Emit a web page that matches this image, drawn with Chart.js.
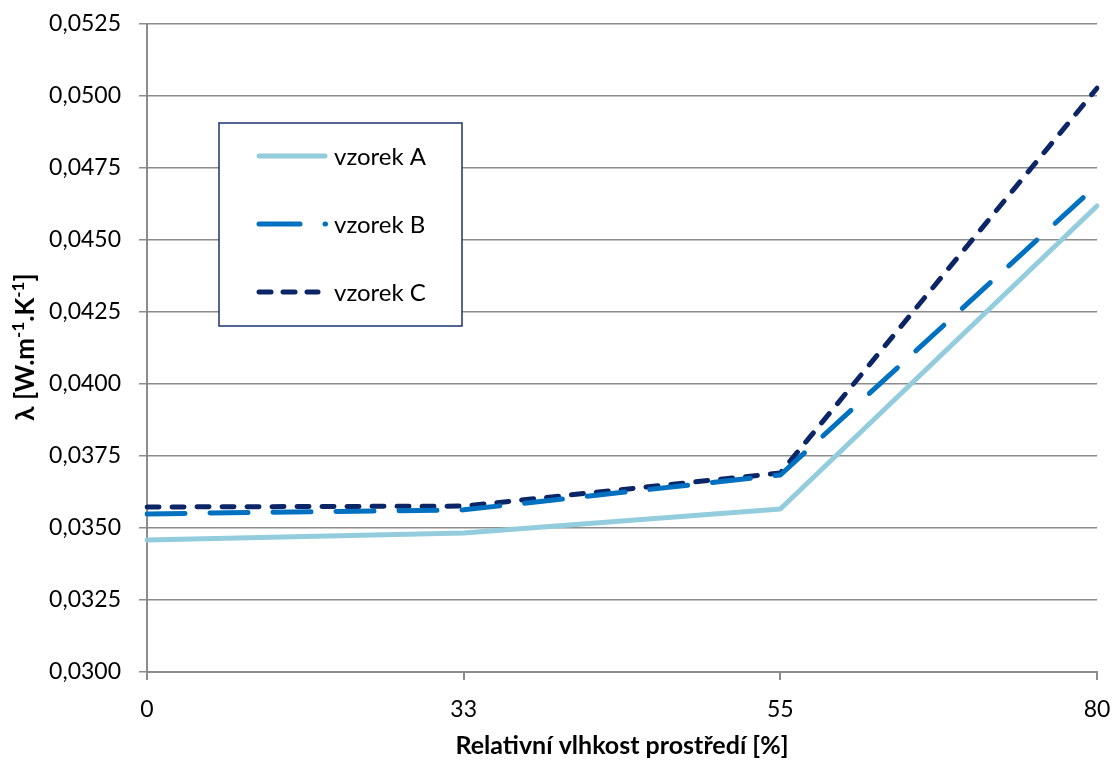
<!DOCTYPE html>
<html><head><meta charset="utf-8">
<script src="https://cdn.jsdelivr.net/npm/chart.js@4"></script>
<style>html,body{margin:0;padding:0;background:#fff}#wrap{width:1114px;height:761px}</style>
</head><body><div id="wrap"><canvas id="c" width="1114" height="761"></canvas></div>
<script>
const categories = ['0', '33', '55', '80'];
const seriesNames = ['vzorek A', 'vzorek B', 'vzorek C'];
const vzorekA = [0.03458, 0.03483, 0.03566, 0.04618];
const vzorekB = [0.03549, 0.03563, 0.03684, 0.04691];
const vzorekC = [0.03573, 0.03576, 0.03691, 0.05027];
const yMin = 0.0300, yMax = 0.0525, yStep = 0.0025;
const xTitle = 'Relativní vlhkost prostředí [%]';
// y title pieces: [text, isSuperscript]
const yTitleParts = [['λ [W.m', false], ['-1', true], ['.K', false], ['-1', true], [']', false]];

const FONT = 'Lato, "Open Sans", sans-serif';
const colors = ['#93CDDD', '#0070C0', '#0B2566'];
const dashes = [[], [38, 25], [12, 13]];

const legendPlugin = {
  id: 'boxLegend',
  afterDraw(chart) {
    const ctx = chart.ctx;
    const x0 = 219, y0 = 123, w = 243, h = 203;
    ctx.save();
    ctx.fillStyle = '#fff';
    ctx.fillRect(x0, y0, w, h);
    ctx.strokeStyle = '#1B3370';
    ctx.lineWidth = 1.5;
    ctx.strokeRect(x0, y0, w, h);
    const rows = [156, 224, 292];
    chart.data.datasets.forEach((ds, i) => {
      const y = rows[i];
      ctx.strokeStyle = ds.borderColor;
      ctx.lineWidth = 5;
      ctx.lineCap = 'round';
      const seg = (a, b) => { ctx.beginPath(); ctx.moveTo(a, y); ctx.lineTo(b, y); ctx.stroke(); };
      if (i === 0) seg(259, 325);
      else if (i === 1) { seg(259, 300); seg(325, 325.5); }
      else { seg(259, 271); seg(283, 295); seg(307, 318); }
      ctx.fillStyle = '#000';
      ctx.font = '24px ' + FONT;
      ctx.textBaseline = 'middle';
      ctx.textAlign = 'left';
      ctx.fillText(ds.label, 334, y + 1);
    });
    ctx.restore();
  }
};

const yTitlePlugin = {
  id: 'yTitle',
  afterDraw(chart) {
    const ctx = chart.ctx;
    ctx.save();
    const main = 'bold 26px ' + FONT, sup = 'bold 17px ' + FONT;
    let total = 0;
    yTitleParts.forEach(p => { ctx.font = p[1] ? sup : main; total += ctx.measureText(p[0]).width; });
    ctx.translate(34, 347);
    ctx.rotate(-Math.PI / 2);
    ctx.fillStyle = '#000';
    ctx.textBaseline = 'alphabetic';
    ctx.textAlign = 'left';
    let x = -total / 2;
    yTitleParts.forEach(p => {
      ctx.font = p[1] ? sup : main;
      ctx.fillText(p[0], x, p[1] ? -10 : 0);
      x += ctx.measureText(p[0]).width;
    });
    ctx.restore();
  }
};

new Chart(document.getElementById('c'), {
  type: 'line',
  data: {
    labels: categories,
    datasets: [vzorekA, vzorekB, vzorekC].map((d, i) => ({
      label: seriesNames[i],
      data: d,
      borderColor: colors[i],
      backgroundColor: colors[i],
      borderWidth: 5,
      borderDash: dashes[i],
      borderCapStyle: 'round',
      borderJoinStyle: 'round',
      pointRadius: 0,
      tension: 0,
      fill: false
    }))
  },
  options: {
    responsive: false,
    animation: false,
    layout: { padding: { top: 24, right: 17, left: 0, bottom: 0 } },
    plugins: { legend: { display: false }, tooltip: { enabled: false } },
    scales: {
      x: {
        type: 'category',
        offset: false,
        grid: { display: true, drawOnChartArea: false, drawTicks: true, tickLength: 8, color: '#8C8C8C', lineWidth: 2 },
        border: { color: '#8C8C8C', width: 2 },
        ticks: { color: '#000', font: { family: FONT, size: 23 }, padding: 16, maxRotation: 0 },
        title: { display: true, text: xTitle, color: '#000', font: { family: FONT, size: 25, weight: 'bold' }, padding: { top: 0, bottom: 0 } },
        afterFit(s) { s.height = 89; s.paddingLeft = 0; s.paddingRight = 0; }
      },
      y: {
        min: yMin, max: yMax,
        grid: { color: '#8C8C8C', lineWidth: 1.5, tickLength: 8, drawTicks: true },
        border: { color: '#8C8C8C', width: 2 },
        ticks: {
          stepSize: yStep, color: '#000', font: { family: FONT, size: 23 }, padding: 18,
          callback: v => (Math.round(v * 10000) / 10000).toFixed(4).replace('.', ',')
        },
        afterFit(s) { s.width = 147; s.paddingTop = 0; s.paddingBottom = 0; }
      }
    }
  },
  plugins: [legendPlugin, yTitlePlugin]
});
</script></body></html>
